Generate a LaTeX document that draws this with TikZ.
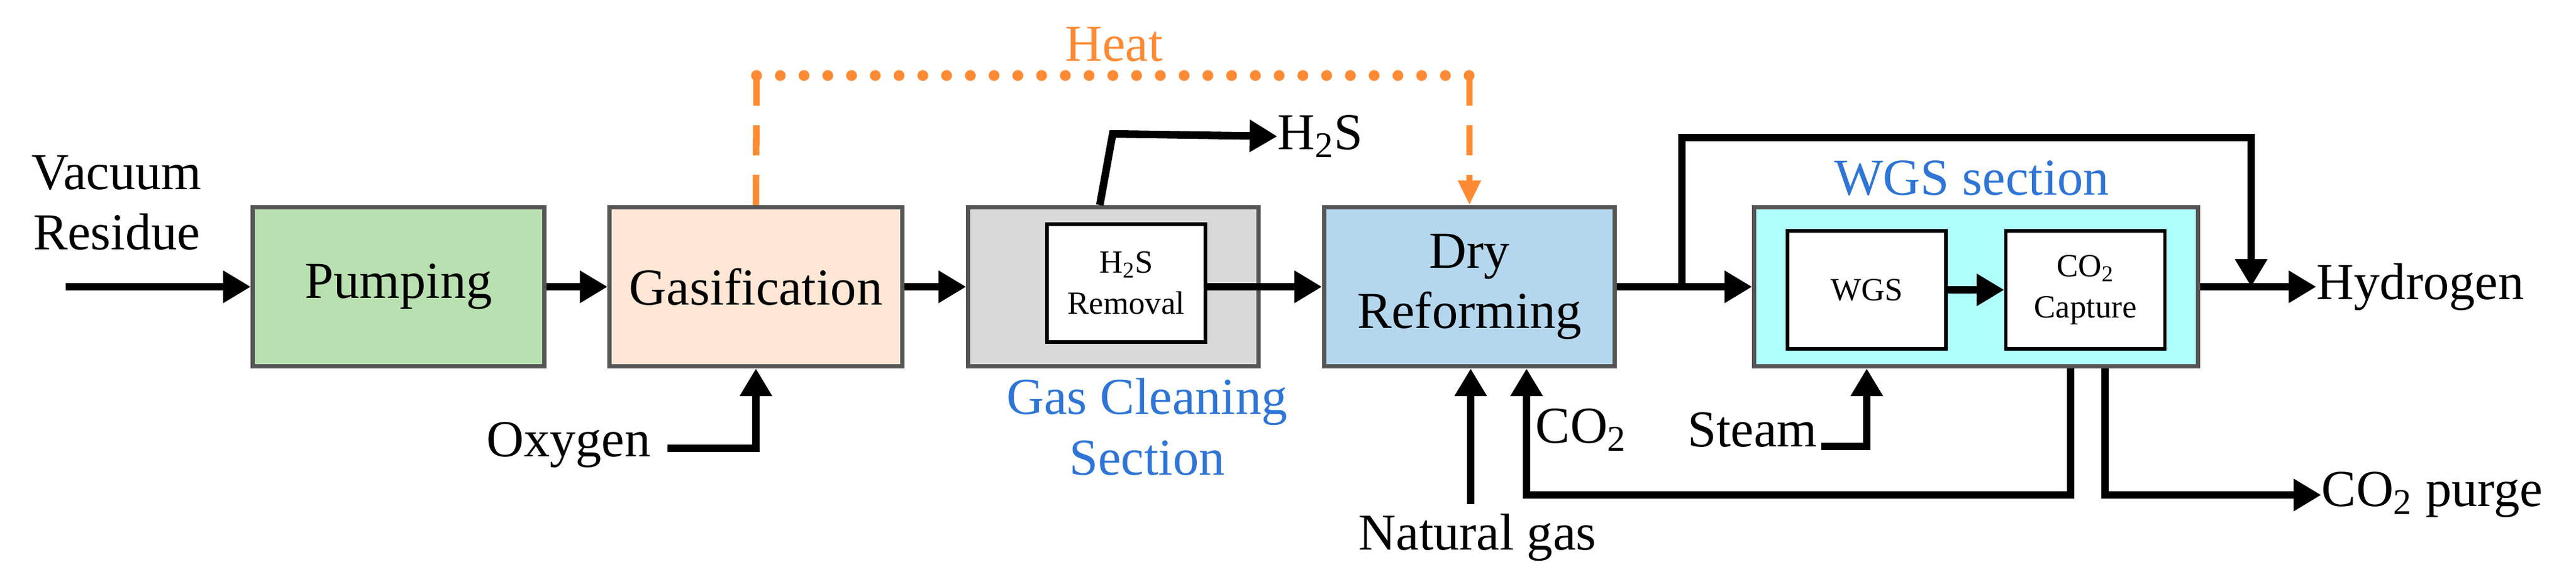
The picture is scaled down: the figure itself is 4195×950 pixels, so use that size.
\documentclass[tikz,border=0pt]{standalone}
\usepackage{fontspec}
\setmainfont{Liberation Serif}
\usetikzlibrary{arrows.meta}
\definecolor{cgreen}{HTML}{B9E0B0}
\definecolor{cpeach}{HTML}{FFE6D5}
\definecolor{cgray}{HTML}{D9D9D9}
\definecolor{cblue}{HTML}{B4D7EE}
\definecolor{ccyan}{HTML}{AFFFFF}
\definecolor{corange}{HTML}{FF8A33}
\definecolor{ctext}{HTML}{2E75D6}
\definecolor{cedge}{HTML}{555555}
\begin{document}
\begin{tikzpicture}[x=0.01cm,y=-0.01cm,
  box/.style={draw=cedge,line width=2pt,minimum width=4.74cm,minimum height=2.59cm,inner sep=0pt,font=\fontsize{24}{28}\selectfont,align=center},
  inbox/.style={draw=black,line width=1.5pt,fill=white,minimum width=2.58cm,minimum height=1.92cm,inner sep=0pt,font=\fontsize{15}{19}\selectfont,align=center},
  lab/.style={font=\fontsize{24}{28}\selectfont,align=center,inner sep=0pt},
  blab/.style={lab,text=ctext},
  flow/.style={line width=3.5pt,-{Triangle[length=0.45cm,width=0.5cm]}},
  line/.style={line width=3.5pt}]
\useasboundingbox (0,0) rectangle (4195,950);
% boxes
\node[box,fill=cgreen] (pump) at (649,467) {Pumping};
\node[box,fill=cpeach,minimum width=4.76cm] (gasif) at (1231,467) {Gasification};
\node[box,fill=cgray,minimum width=4.72cm] (clean) at (1813,467) {};
\node[inbox] (h2sr) at (1834,461) {H\textsubscript{2}S\\Removal};
\node[box,fill=cblue,minimum width=4.73cm] (dry) at (2393,467) {Dry\\Reforming};
\node[box,fill=ccyan,minimum width=7.22cm] (wgss) at (3218,467) {};
\node[inbox] (wgs) at (3040,472) {WGS};
\node[inbox,minimum width=2.59cm] (cap) at (3396,472) {CO\textsubscript{2}\\Capture};
% labels
\node[lab] (vr) at (190,330) {Vacuum\\Residue};
\node[lab,anchor=east] (oxy) at (1060,725) {Oxygen};
\node[lab,anchor=west] (h2s) at (2080,222) {H\textsubscript{2}S};
\node[lab,text=corange] (heat) at (1814,72) {Heat};
\node[blab] (gcs) at (1868,695) {Gas Cleaning\\Section};
\node[blab] (wgsl) at (3211,290) {WGS section};
\node[lab,anchor=west] (hyd) at (3772,467) {Hydrogen};
\node[lab] (ng) at (2406,875) {Natural gas};
\node[lab,anchor=west] (co2) at (2500,700) {CO\textsubscript{2}};
\node[lab,anchor=east] (steam) at (2960,700) {Steam};
\node[lab,anchor=west] (purge) at (3780,806) {CO\textsubscript{2} purge};
% coordinates
\coordinate (vrs) at (107,467);
\coordinate (oxs) at (1087,730);
\coordinate (h2sup) at (1812,218);
\coordinate (heattop) at (1232,123);
\coordinate (split) at (2739,467);
\coordinate (bypass) at (2739,224);
\coordinate (byend) at (3666,224);
\coordinate (ngs) at (2395,821);
\coordinate (rec1) at (3372,806);
\coordinate (rec2) at (2486,806);
\coordinate (sts) at (2966,727);
\coordinate (stc) at (3040,727);
\coordinate (pur1) at (3428,806);
% connectors
\draw[flow] (vrs) -- (pump.west);
\draw[flow] (pump) -- (gasif);
\draw[flow] (gasif) -- (clean);
\draw[flow] (h2sr.east |- dry.west) -- (dry.west);
\draw[flow] ([xshift=-0.22cm]clean.north) -- (h2sup) -- (h2s.west);
\draw[flow] (oxs) -- (oxs -| gasif.south) -- (gasif.south);
\draw[corange,line width=3pt,dash pattern=on 14pt off 9pt] (gasif.north) -- (heattop);
\draw[corange,line width=5pt,line cap=round,dash pattern=on 0pt off 11pt] (heattop) -- (heattop -| dry.north);
\draw[corange,line width=3pt,dash pattern=on 14pt off 9pt,-{Triangle[length=0.4cm,width=0.35cm]}] (heattop -| dry.north) -- (dry.north);
\draw[flow] (dry.east) -- (wgss.west);
\draw[flow] (split) -- (bypass) -- (byend) -- (byend |- hyd.west);
\draw[flow] (wgss.east |- hyd.west) -- (hyd.west);
\draw[flow] (wgs.east |- cap.west) -- (cap.west);
\draw[flow] (ngs) -- (ngs |- dry.south);
\draw[flow] (rec1 |- wgss.south) -- (rec1) -- (rec2) -- (rec2 |- dry.south);
\draw[flow] (sts) -- (stc) -- (stc |- wgss.south);
\draw[flow] (pur1 |- wgss.south) -- (pur1) -- (purge.west);
\end{tikzpicture}
\end{document}
